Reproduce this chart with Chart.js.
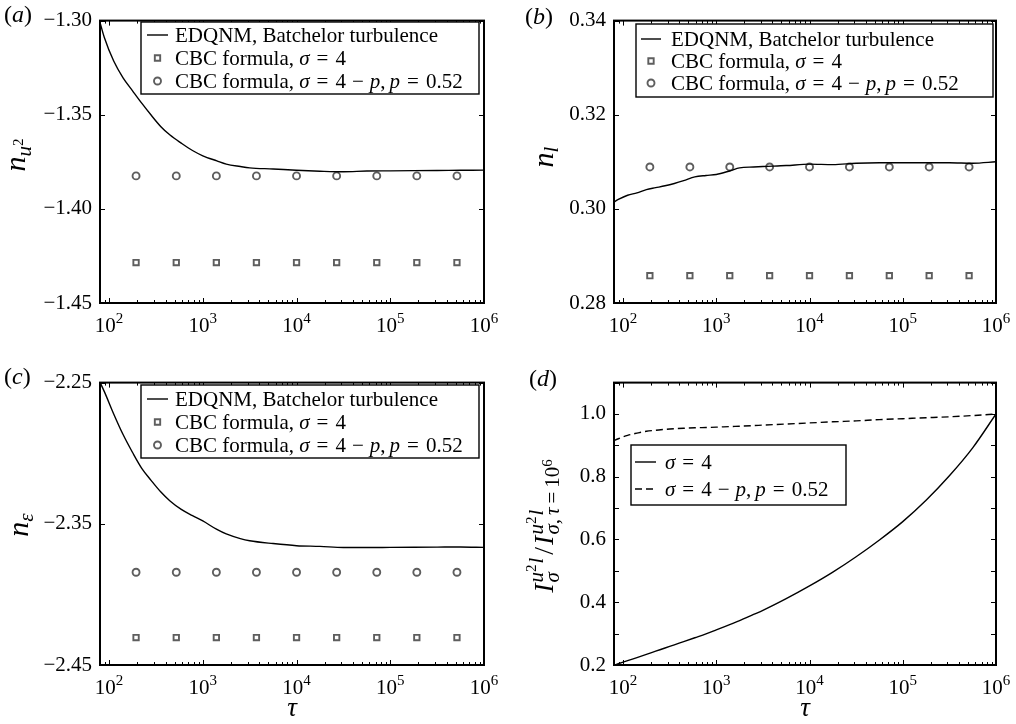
<!DOCTYPE html>
<html>
<head>
<meta charset="utf-8">
<script src="https://cdn.jsdelivr.net/npm/chart.js@4.4.1/dist/chart.umd.min.js"></script>
<style>
  html, body { margin: 0; padding: 0; background: #fff; }
  #wrap { position: relative; width: 1016px; height: 724px; }
  .panel { position: absolute; width: 508px; height: 362px; }
</style>
</head>
<body>
<div id="wrap">
  <div class="panel" style="left:0;top:0"><canvas id="panelA" width="508" height="362"></canvas></div>
  <div class="panel" style="left:508px;top:0"><canvas id="panelB" width="508" height="362"></canvas></div>
  <div class="panel" style="left:0;top:362px"><canvas id="panelC" width="508" height="362"></canvas></div>
  <div class="panel" style="left:508px;top:362px"><canvas id="panelD" width="508" height="362"></canvas></div>
</div>
<script>
const SERIF = '"Liberation Serif", "DejaVu Serif", serif';
const MARK = '#5e5e5e';

// eixo tau (log)
const tauRange = [80, 1e6];
const tauTicks = [1e2, 1e3, 1e4, 1e5, 1e6];

// tau dos pontos
const tauCurve = [79, 89, 112, 141, 178, 224, 282, 355, 447, 589, 776, 1000, 1413, 1778, 2512, 3162, 5623,
  10000, 17783, 31623, 56234, 100000, 177828, 316228, 562341, 1000000];
// tau dos marcadores CBC
const tauCBC = [194, 521, 1395, 3733, 10000, 26790, 71770, 192000, 514600];

// (a) n_u2
const edqnmA = [-1.3000, -1.3090, -1.3215, -1.3304, -1.3373, -1.3440, -1.3503, -1.3562, -1.3608, -1.3651, -1.3690,
  -1.3718, -1.3745, -1.3762, -1.3775, -1.3782, -1.3788, -1.3795, -1.3800, -1.3803, -1.3799, -1.3798, -1.3797,
  -1.3796, -1.3795, -1.3794];
const cbcA = [-1.4285, -1.4285, -1.4285, -1.4285, -1.4285, -1.4285, -1.4285, -1.4285, -1.4285];
const cbcPA = [-1.3825, -1.3825, -1.3825, -1.3825, -1.3825, -1.3825, -1.3825, -1.3825, -1.3825];
const yTicksA = [-1.45, -1.40, -1.35, -1.30];

// (b) n_l
const edqnmB = [0.3014, 0.3020, 0.3029, 0.3034, 0.3041, 0.3045, 0.3049, 0.3054, 0.3060, 0.3068, 0.3071, 0.3073,
  0.3081, 0.3087, 0.3089, 0.3090, 0.3092, 0.3095, 0.3094, 0.3097, 0.3098, 0.3098, 0.3098, 0.3098, 0.3097, 0.3100];
const cbcB = [0.2858, 0.2858, 0.2858, 0.2858, 0.2858, 0.2858, 0.2858, 0.2858, 0.2858];
const cbcPB = [0.3089, 0.3089, 0.3089, 0.3089, 0.3089, 0.3089, 0.3089, 0.3089, 0.3089];
const yTicksB = [0.28, 0.30, 0.32, 0.34];

// (c) n_eps
const edqnmC = [-2.2490, -2.2564, -2.2722, -2.2868, -2.2995, -2.3109, -2.3194, -2.3273, -2.3338, -2.3398, -2.3442,
  -2.3480, -2.3540, -2.3572, -2.3605, -2.3620, -2.3640, -2.3655, -2.3660, -2.3668, -2.3668, -2.3667, -2.3666,
  -2.3665, -2.3664, -2.3667];
const cbcC = [-2.4306, -2.4306, -2.4306, -2.4306, -2.4306, -2.4306, -2.4306, -2.4306, -2.4306];
const cbcPC = [-2.3843, -2.3843, -2.3843, -2.3843, -2.3843, -2.3843, -2.3843, -2.3843, -2.3843];
const yTicksC = [-2.45, -2.35, -2.25];

// (d) razão I / I(tau=1e6)
const ratioS4 = [0.199, 0.204, 0.214, 0.2237, 0.2338, 0.2440, 0.2541, 0.2644, 0.2745, 0.2868, 0.2992, 0.3119,
  0.3296, 0.3413, 0.3611, 0.3742, 0.4114, 0.452, 0.496, 0.545, 0.5985, 0.657, 0.725, 0.803, 0.892, 1.000];
const ratioSP = [0.914, 0.921, 0.932, 0.939, 0.945, 0.948, 0.951, 0.953, 0.9545, 0.956, 0.957, 0.958,
  0.960, 0.961, 0.963, 0.9645, 0.968, 0.9715, 0.975, 0.978, 0.982, 0.985, 0.988, 0.991, 0.995, 1.000];
const yTicksD = [0.2, 0.3, 0.4, 0.5, 0.6, 0.7, 0.8, 0.9, 1.0, 1.1];

// ---------- texto com sub/sobrescrito ----------
const R = (t, size, dy, extra) => Object.assign({ t, size, italic: false, dy: dy || 0 }, extra || {});
const It = (t, size, dy, extra) => Object.assign({ t, size, italic: true, dy: dy || 0 }, extra || {});

function layoutRich(ctx, segs, draw, x0, y0) {
  let x = 0, markX = 0, maxX = 0;
  segs.forEach(s => {
    if (s.back) x = markX;
    if (s.jump) x = maxX;
    if (s.mark) markX = x;
    x += s.pl || 0;
    ctx.font = (s.italic ? 'italic ' : '') + s.size + 'px ' + SERIF;
    if (draw) ctx.fillText(s.t, x0 + x, y0 + s.dy);
    x += ctx.measureText(s.t).width + (s.gap || 0);
    maxX = Math.max(maxX, x);
  });
  return maxX;
}

function drawRich(ctx, segs, x, y, align) {
  ctx.save();
  ctx.fillStyle = '#000';
  ctx.textAlign = 'left';
  ctx.textBaseline = 'alphabetic';
  const w = layoutRich(ctx, segs, false, 0, 0);
  const x0 = align === 'center' ? x - w / 2 : x;
  layoutRich(ctx, segs, true, x0, y);
  ctx.restore();
}

function drawSample(ctx, ds, x1, x2, y) {
  ctx.save();
  if (ds.showLine) {
    ctx.strokeStyle = ds.borderColor;
    ctx.lineWidth = ds.borderWidth;
    ctx.setLineDash(ds.borderDash || []);
    ctx.beginPath();
    ctx.moveTo(x1, y);
    ctx.lineTo(x2, y);
    ctx.stroke();
  } else {
    const cx = (x1 + x2) / 2, r = ds.pointRadius;
    ctx.strokeStyle = ds.pointBorderColor;
    ctx.lineWidth = ds.pointBorderWidth;
    ctx.beginPath();
    if (ds.pointStyle === 'rect') {
      const h = r * Math.SQRT1_2;
      ctx.rect(cx - h, y - h, 2 * h, 2 * h);
    } else {
      ctx.arc(cx, y, r, 0, Math.PI * 2);
    }
    ctx.stroke();
  }
  ctx.restore();
}

// ticks para dentro, moldura, legenda e rótulos
const panelDecor = {
  id: 'panelDecor',
  afterDatasetsDraw(chart, args, o) {
    const ctx = chart.ctx, a = chart.chartArea;
    const xs = chart.scales.x, ys = chart.scales.y;
    ctx.save();
    ctx.strokeStyle = '#000';
    ctx.lineWidth = 1;
    ctx.beginPath();
    xs.ticks.forEach(t => {
      const px = Math.round(xs.getPixelForValue(t.value)) + 0.5;
      const len = t.major ? 5 : 3;
      ctx.moveTo(px, a.bottom); ctx.lineTo(px, a.bottom - len);
      ctx.moveTo(px, a.top); ctx.lineTo(px, a.top + len);
    });
    ys.ticks.forEach(t => {
      const py = Math.round(ys.getPixelForValue(t.value)) + 0.5;
      ctx.moveTo(a.left, py); ctx.lineTo(a.left + 5, py);
      ctx.moveTo(a.right, py); ctx.lineTo(a.right - 5, py);
    });
    ctx.stroke();
    ctx.lineWidth = 2;
    ctx.strokeRect(a.left, a.top, a.right - a.left, a.bottom - a.top);
    ctx.restore();

    // rótulos do eixo tau: 10^n
    xs.ticks.filter(t => t.major).forEach(t => {
      const px = xs.getPixelForValue(t.value);
      const exp = String(Math.round(Math.log10(t.value)));
      drawRich(ctx, [R('10', 21), R(exp, 15, -9)], px, a.bottom + 29, 'center');
    });

    // legenda
    const L = o.legend;
    ctx.save();
    ctx.fillStyle = '#fff';
    ctx.fillRect(L.x, L.y, L.w, L.h);
    ctx.strokeStyle = '#000';
    ctx.lineWidth = 1.4;
    ctx.strokeRect(L.x, L.y, L.w, L.h);
    ctx.restore();
    L.rows.forEach((row, i) => {
      const base = L.baselines[i];
      drawSample(ctx, chart.data.datasets[row.ds], L.sample[0], L.sample[1], base - 7);
      drawRich(ctx, row.segs, L.textX, base, 'left');
    });

    // título do eixo y (rotacionado)
    ctx.save();
    ctx.translate(o.yTitle.x, o.yTitle.y);
    ctx.rotate(-Math.PI / 2);
    drawRich(ctx, o.yTitle.segs, 0, 0, 'center');
    ctx.restore();

    // rótulo do painel e título do eixo x
    drawRich(ctx, o.tag.segs, o.tag.x, o.tag.y, 'left');
    if (o.xTitle) drawRich(ctx, [It('τ', 27)], (a.left + a.right) / 2, o.xTitle.y, 'center');
  }
};

function pts(xs, ys) { return xs.map((x, i) => ({ x, y: ys[i] })); }

function logTicks() {
  const out = [];
  for (let d = 10; d < tauRange[1]; d *= 10) {
    for (let m = 1; m < 10; m++) {
      const v = d * m;
      if (v >= tauRange[0]) out.push({ value: v, major: tauTicks.includes(v) });
    }
  }
  out.push({ value: tauRange[1], major: true });
  return out;
}

function lineSet(ys, dash) {
  return { data: pts(tauCurve, ys), showLine: true, borderColor: '#000', borderWidth: 1.4,
    borderDash: dash || [], pointRadius: 0, cubicInterpolationMode: 'monotone', fill: false };
}
function markerSet(ys, style, r) {
  return { data: pts(tauCBC, ys), showLine: false, pointStyle: style, pointRadius: r,
    pointBorderColor: MARK, pointBackgroundColor: 'rgba(0,0,0,0)', pointBorderWidth: 1.9 };
}

function makePanel(id, cfg) {
  return new Chart(document.getElementById(id), {
    type: 'scatter',
    data: { datasets: cfg.datasets },
    options: {
      responsive: false,
      animation: false,
      devicePixelRatio: 1,
      layout: { padding: { top: 15, right: cfg.padRight, left: 0, bottom: 0 } },
      plugins: { legend: { display: false }, tooltip: { enabled: false }, panelDecor: cfg.decor },
      scales: {
        x: {
          type: 'logarithmic', min: tauRange[0], max: tauRange[1],
          grid: { display: false }, border: { display: false }, ticks: { display: false },
          afterBuildTicks: s => { s.ticks = logTicks(); },
          afterFit: s => { s.height = 59; }
        },
        y: {
          type: 'linear', min: cfg.yTicks[0], max: cfg.yTicks[cfg.yTicks.length - 1],
          grid: { display: false, drawTicks: false }, border: { display: false },
          ticks: { font: { family: SERIF, size: 21 }, color: '#000', padding: 8, autoSkip: false, callback: cfg.yFormat },
          afterBuildTicks: s => { s.ticks = cfg.yTicks.map(v => ({ value: v })); },
          afterFit: s => { s.width = cfg.yWidth; }
        }
      }
    },
    plugins: [panelDecor]
  });
}

const fmt = d => v => v.toFixed(d).replace('-', '\u2212');
const S = 21;
// espaçamento tipo TeX em volta de = e −
const eq = () => R('=', S, 0, { pl: 7, gap: 7 });
const minus = () => R('\u2212', S, 0, { pl: 6, gap: 6 });
const rowSigma4 = [It('σ', S), eq(), R('4', S)];
const rowSigmaP = [It('σ', S), eq(), R('4', S), minus(), It('p', S), R(',', S, 0, { gap: 4 }), It('p', S), eq(), R('0.52', S)];
const rowsABC = [
  { ds: 0, segs: [R('EDQNM, Batchelor turbulence', S)] },
  { ds: 1, segs: [R('CBC formula, ', S)].concat(rowSigma4) },
  { ds: 2, segs: [R('CBC formula, ', S)].concat(rowSigmaP) }
];

document.addEventListener('DOMContentLoaded', () => {
  // (a)
  makePanel('panelA', {
    datasets: [lineSet(edqnmA), markerSet(cbcA, 'rect', 3.8), markerSet(cbcPA, 'circle', 3.5)],
    yTicks: yTicksA, yFormat: fmt(2), yWidth: 100, padRight: 24,
    decor: {
      legend: { x: 141, y: 22, w: 338, h: 72, baselines: [42, 65, 88], sample: [147, 168], textX: 175, rows: rowsABC },
      yTitle: { x: 25, y: 155, segs: [It('n', 30), It('u', 21, 6), R('2', 15, -2)] },
      tag: { x: 4, y: 22, segs: [R('(', 24), It('a', 24), R(')', 24)] }
    }
  });

  // (b)
  makePanel('panelB', {
    datasets: [lineSet(edqnmB), markerSet(cbcB, 'rect', 3.8), markerSet(cbcPB, 'circle', 3.5)],
    yTicks: yTicksB, yFormat: fmt(2), yWidth: 106, padRight: 20,
    decor: {
      legend: { x: 128, y: 24, w: 357, h: 73, baselines: [46, 68, 90], sample: [133, 153], textX: 163, rows: rowsABC },
      yTitle: { x: 45, y: 157, segs: [It('n', 30), It('l', 21, 5)] },
      tag: { x: 17, y: 24, segs: [R('(', 24), It('b', 24), R(')', 24)] }
    }
  });

  // (c)
  makePanel('panelC', {
    datasets: [lineSet(edqnmC), markerSet(cbcC, 'rect', 3.8), markerSet(cbcPC, 'circle', 3.5)],
    yTicks: yTicksC, yFormat: fmt(2), yWidth: 100, padRight: 24,
    decor: {
      legend: { x: 141, y: 23, w: 338, h: 73, baselines: [44, 67, 90], sample: [147, 168], textX: 175, rows: rowsABC },
      yTitle: { x: 28, y: 163, segs: [It('n', 30), It('ε', 21, 5)] },
      tag: { x: 4, y: 22, segs: [R('(', 24), It('c', 24), R(')', 24)] },
      xTitle: { y: 354 }
    }
  });

  // (d)
  makePanel('panelD', {
    datasets: [lineSet(ratioS4), lineSet(ratioSP, [7, 4])],
    yTicks: yTicksD, yWidth: 106, padRight: 20,
    yFormat: (v, i) => (i % 2 === 0 && v < 1.05 ? v.toFixed(1) : ''),
    decor: {
      legend: {
        x: 123, y: 83, w: 215, h: 60, baselines: [107, 134], sample: [127, 148], textX: 157,
        rows: [
          { ds: 0, segs: rowSigma4 },
          { ds: 1, segs: rowSigmaP }
        ]
      },
      yTitle: {
        x: 45, y: 164,
        segs: [
          It('I', 28, 0, { gap: 1 }), It('u', 21, -10, { mark: true }), R('2', 15, -17, { gap: 1 }), It('l', 21, -10, { gap: 3 }),
          It('σ', 21, 6, { back: true }),
          R('/', 28, 0, { jump: true, gap: 2 }), It('I', 28, 0, { gap: 1 }),
          It('u', 21, -10, { mark: true }), R('2', 15, -17, { gap: 1 }), It('l', 21, -10),
          It('σ', 21, 6, { back: true }), R(',', 21, 6, { gap: 4 }), It('τ', 21, 6),
          R('=', 21, 6, { pl: 4, gap: 4 }), R('10', 21, 6), R('6', 15, -1)
        ]
      },
      tag: { x: 21, y: 24, segs: [R('(', 24), It('d', 24), R(')', 24)] },
      xTitle: { y: 354 }
    }
  });
});
</script>
</body>
</html>
